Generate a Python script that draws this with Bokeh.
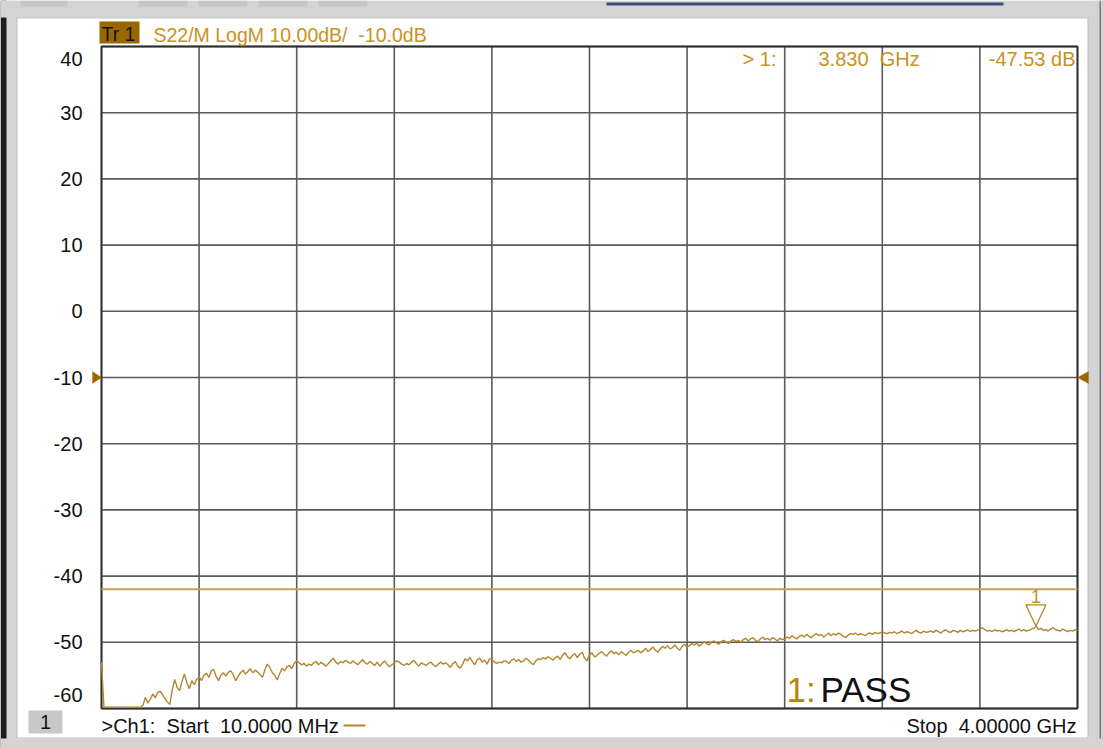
import numpy as np
from bokeh.plotting import figure
from bokeh.models import Range1d, Label, BoxAnnotation, PolyAnnotation
from bokeh.core.properties import value
from bokeh.embed import file_html
from bokeh.resources import INLINE

# ---------------- data ----------------
start_ghz = 0.01
stop_ghz = 4.0
ref_level_db = -10.0
scale_db_per_div = 10.0
limit_db = -42.0
marker_freq_ghz = 3.830
marker_db = -47.53
y_ticks = [40, 30, 20, 10, 0, -10, -20, -30, -40, -50, -60]
n_div = 10

s22_db = [
    -53.0, -59.8, -59.8, -59.8, -59.8, -59.8, -59.8, -59.8, -59.8, -59.8,
    -59.8, -59.8, -59.8, -59.8, -59.8, -59.8, -59.8, -59.5, -58.3, -59.2,
    -58.6, -57.8, -58.4, -57.6, -57.4, -57.9, -58.5, -59.0, -59.4, -57.2,
    -55.6, -56.8, -57.3, -55.9, -54.8, -56.1, -57.0, -55.8, -56.4, -55.6,
    -55.2, -55.8, -55.0, -54.7, -55.3, -54.3, -54.1, -55.2, -55.8, -54.9,
    -54.6, -55.1, -54.5, -54.3, -54.9, -55.8, -55.1, -54.6, -54.2, -54.8,
    -54.4, -54.0, -54.6, -54.2, -54.5, -54.9, -55.3, -54.1, -53.3, -53.8,
    -54.6, -55.0, -55.7, -54.8, -53.9, -54.3, -53.7, -53.5, -54.0, -53.2,
    -52.8, -53.1, -53.4, -53.2, -53.6, -53.3, -53.5, -53.1, -52.9, -53.4,
    -53.0, -53.3, -53.6, -53.2, -52.8, -52.4, -53.0, -53.3, -52.9, -53.1,
    -52.7, -53.0, -53.2, -52.8, -53.1, -53.4, -53.0, -52.6, -53.1, -53.3,
    -52.9, -53.2, -53.5, -53.0, -53.6, -53.2, -52.8, -53.3, -53.7, -53.4,
    -53.1, -52.8, -53.0, -53.3, -53.5, -53.2, -53.4, -53.0, -52.7, -53.2,
    -53.6, -53.1, -53.3, -53.5, -53.2, -53.0, -53.4, -53.7, -53.3, -53.0,
    -53.3, -53.1, -53.4, -53.8, -53.2, -52.9, -53.6, -53.9, -53.3, -52.5,
    -52.8, -52.3, -52.9, -53.4, -52.6, -52.4, -53.0, -52.7, -53.3, -52.5,
    -52.6, -53.0, -53.2, -53.0, -53.1, -52.8, -52.9, -53.2, -52.7, -52.5,
    -52.9, -52.6, -53.0, -52.8, -52.4, -52.7, -53.1, -53.4, -52.8, -52.5,
    -52.6, -52.3, -52.5, -52.2, -52.4, -52.7, -52.3, -52.1, -52.6, -51.9,
    -51.6, -52.2, -52.5, -52.0, -51.7, -52.3, -51.8, -51.5, -52.4, -52.8,
    -51.9, -51.6, -52.2, -52.0, -51.7, -51.4, -51.8, -52.1, -51.6, -51.3,
    -51.7, -51.5, -51.9, -51.4, -51.7, -52.0, -51.5, -51.2, -51.6, -51.4,
    -51.2, -51.6, -51.3, -50.9, -51.4, -51.1, -50.7, -51.2, -51.5, -51.0,
    -50.6, -50.9, -50.5, -51.0, -50.8, -50.4, -50.9, -51.2, -50.6, -50.3,
    -50.7, -50.5, -50.2, -50.4, -50.1, -50.6, -50.3, -49.9, -50.2, -50.4,
    -50.0, -49.8, -50.1, -50.3, -49.9, -49.7, -50.0, -50.2, -49.8, -49.6,
    -49.9, -49.7, -50.0, -49.6, -49.4, -49.8, -49.5, -49.3, -49.7, -49.9,
    -49.5, -49.2, -49.6, -49.4, -49.7, -49.3, -49.5, -49.8, -49.4, -49.6,
    -49.5, -49.2, -49.4, -49.0, -49.3, -49.5, -49.1, -48.9, -49.2, -48.8,
    -49.1, -49.3, -48.9, -48.7, -49.0, -48.8, -49.2, -48.9, -48.6, -49.0,
    -48.7, -48.9, -48.6, -48.8, -49.1, -49.3, -48.9, -48.7, -48.8, -48.6,
    -48.9, -48.7, -48.8, -49.0, -48.7, -48.6, -48.8, -48.5, -48.7, -48.6,
    -48.4, -48.6, -48.7, -48.5, -48.6, -48.4, -48.7, -48.5, -48.3, -48.6,
    -48.4, -48.5, -48.7, -48.4, -48.2, -48.5, -48.6, -48.3, -48.5, -48.4,
    -48.3, -48.5, -48.2, -48.4, -48.6, -48.3, -48.1, -48.4, -48.5, -48.2,
    -48.3, -48.5, -48.2, -48.4, -48.3, -48.1, -48.4, -48.2, -48.3, -48.2,
    -48.0, -47.8, -48.1, -48.3, -48.2, -48.4, -48.1, -48.3, -48.2, -48.4,
    -48.3, -48.1, -48.3, -48.2, -48.4, -48.2, -48.0, -48.3, -48.1, -48.3,
    -48.2, -48.0, -47.9, -47.53, -48.1, -47.9, -48.2, -48.1, -48.3, -48.0,
    -47.8, -48.1, -48.2, -48.3, -48.0, -48.2, -48.4, -48.2, -48.3, -48.1,
    -48.2,
]

freq_ghz = np.linspace(start_ghz, stop_ghz, len(s22_db))
y_top = ref_level_db + scale_db_per_div * n_div / 2
y_bot = ref_level_db - scale_db_per_div * n_div / 2
x_div = [start_ghz + k * (stop_ghz - start_ghz) / n_div for k in range(n_div + 1)]

# ---------------- layout (page pixels) ----------------
W, H = 1103, 747
GL, GR, GT, GB = 101, 1077, 46, 708          # graticule edges
GW, GH = GR - GL, GB - GT

GOLD = "#c8921e"
TRACE = "#b3862c"
LIMIT = "#c4a15c"
BROWN = "#9a6600"
GRID = "#5a5a5a"
FRAME_GREY = "#d4d4d4"
FONT = "Liberation Sans"
SP2 = " \u00a0"   # a double space that survives SVG whitespace collapsing


def dx(px):
    return start_ghz + (px - GL) / GW * (stop_ghz - start_ghz)


def dy(py):
    return y_top - (py - GT) / GH * (y_top - y_bot)


p = figure(width=W, height=H, output_backend="svg", toolbar_location=None,
           x_range=Range1d(dx(0), dx(W)), y_range=Range1d(dy(H), dy(0)),
           x_axis_location=None, y_axis_location=None,
           min_border=0, background_fill_color="white",
           border_fill_color="white", outline_line_color=None)
p.grid.visible = False


# ---- window frame ----
def box(l, r, t, b, color, alpha=1.0, line=None, lw=1):
    p.add_layout(BoxAnnotation(left=dx(l), right=dx(r), top=dy(t), bottom=dy(b),
                               fill_color=color, fill_alpha=alpha,
                               line_color=line, line_width=lw, level="underlay"))


box(0, 16, 0, H, FRAME_GREY)
box(0, 6, 0, H, "#1e1e1e")
box(0, W, 0, 17, FRAME_GREY)
box(1088, W, 0, H, FRAME_GREY)
box(1099, 1100.5, 0, H, "#7a7a7a")
box(0, W, 738, H, FRAME_GREY)
for tl, tr in [(20, 67), (138, 187), (198, 247), (258, 307), (318, 367)]:
    box(tl, tr, 0, 6, "#c6c6c6")
box(6, 16, 0, 17, FRAME_GREY)
box(606, 1003, 2, 5, "#3a4f78")
box(16.5, 1087.5, 17.5, 737.5, "white", 0, line="#404040", lw=1.2)

# ---- graticule ----
p.segment(x0=x_div, y0=[y_bot] * len(x_div), x1=x_div, y1=[y_top] * len(x_div),
          line_color=GRID, line_width=1.6)
p.segment(x0=[start_ghz] * len(y_ticks), y0=y_ticks,
          x1=[stop_ghz] * len(y_ticks), y1=y_ticks,
          line_color=GRID, line_width=1.6)
p.quad(left=[start_ghz], right=[stop_ghz], top=[y_top], bottom=[y_bot],
       fill_alpha=0, line_color="#2e2e2e", line_width=1.8)

# y scale labels (end labels pulled inside, as on the instrument)
pad_top = 12 / GH * (y_top - y_bot)
pad_bot = 14 / GH * (y_top - y_bot)
label_y = [min(max(t, y_bot + pad_bot), y_top - pad_top) for t in y_ticks]
p.text(x=[start_ghz] * len(y_ticks), y=label_y, text=[str(t) for t in y_ticks],
       x_offset=-19, text_align="right", text_baseline="middle",
       text_font=value(FONT), text_font_size="20px", text_color="#111111")

# limit line
p.line([start_ghz, stop_ghz], [limit_db, limit_db], line_color=LIMIT, line_width=2)

# trace
p.line(freq_ghz, s22_db, line_color=TRACE, line_width=1.4)

# marker triangle (apex on the marker point)
hw = 10 / GW * (stop_ghz - start_ghz)
hh = 21 / GH * (y_top - y_bot)
p.patch([marker_freq_ghz - hw, marker_freq_ghz + hw, marker_freq_ghz],
        [marker_db + hh, marker_db + hh, marker_db],
        fill_alpha=0, line_color=TRACE, line_width=1.3)

# reference level arrows
a = 6 / GH * (y_top - y_bot)
p.add_layout(PolyAnnotation(xs=[dx(92), dx(GL), dx(92)],
                            ys=[ref_level_db + a, ref_level_db, ref_level_db - a],
                            fill_color=BROWN, fill_alpha=1, line_color=BROWN,
                            line_width=1, level="overlay"))
p.add_layout(PolyAnnotation(xs=[dx(1088), dx(GR), dx(1088)],
                            ys=[ref_level_db + a, ref_level_db, ref_level_db - a],
                            fill_color=BROWN, fill_alpha=1, line_color=BROWN,
                            line_width=1, level="overlay"))


def lab(px, py, text, color=GOLD, size="20px", align="left"):
    p.add_layout(Label(x=dx(px), y=dy(py), text=text, text_align=align,
                       text_baseline="middle", text_font=FONT,
                       text_font_size=size, text_color=color))


# header
box(99, 139, 21, 43, BROWN)
lab(101, 33, "Tr 1", color="#1a1200", size="19.5px")
lab(153, 34, "S22/M LogM %.2fdB/%s%.1fdB" % (scale_db_per_div, SP2, ref_level_db),
    size="19.5px")

# marker readout
lab(776, 58, "> 1:", align="right")
lab(818, 58, "%.3f%sGHz" % (marker_freq_ghz, SP2))
lab(1075, 58, "%.2f dB" % marker_db, align="right")
p.add_layout(Label(x=marker_freq_ghz, y=dy(596), text="1", text_align="center",
                   text_baseline="middle", text_font=FONT,
                   text_font_size="18px", text_color=GOLD))

# limit test result
lab(786, 689, "1:", size="35px", color="#b8860b")
lab(820, 689, "PASS", size="35px", color="#111111")

# footer
box(28, 62, 710, 733, "#c8c8c8")
lab(45, 721, "1", color="#111111", align="center")
lab(101, 725, ">Ch1:%sStart%s%.4f MHz" % (SP2, SP2, start_ghz * 1000), color="#111111")
box(343, 365, 724, 726, TRACE)
lab(1076, 725, "Stop%s%.5f GHz" % (SP2, stop_ghz), color="#111111", align="right")

open("out.html", "w").write(file_html(p, INLINE))
